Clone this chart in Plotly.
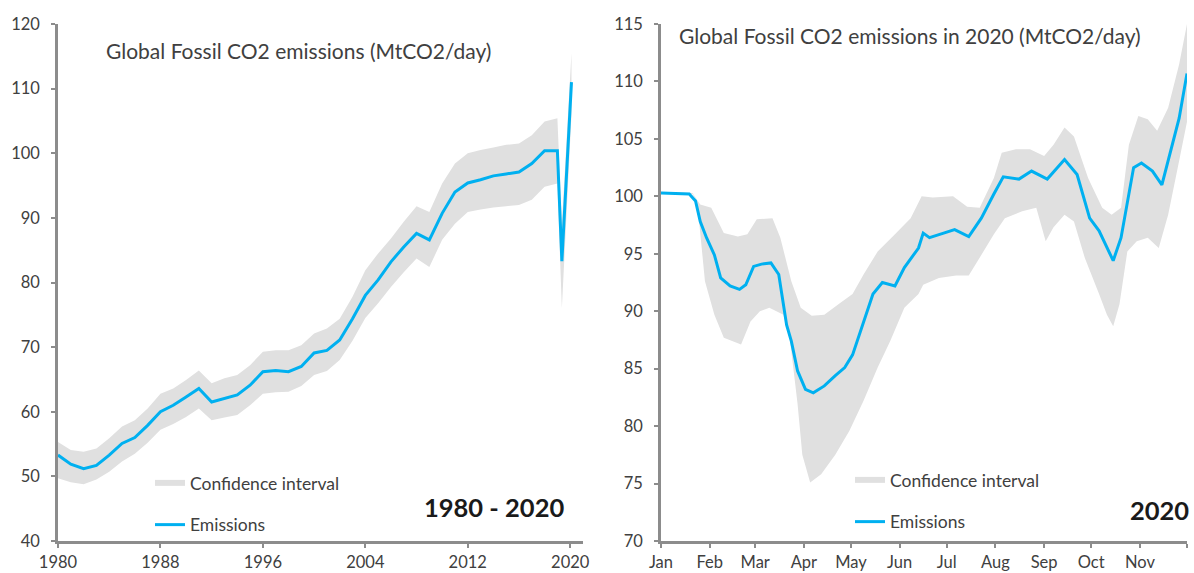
import pandas as pd
import plotly.graph_objects as go
from plotly.subplots import make_subplots

# ---------------- Left panel: annual 1980-2020 ----------------
years = [1980, 1981, 1982, 1983, 1984, 1985, 1986, 1987, 1988, 1989,
         1990, 1991, 1992, 1993, 1994, 1995, 1996, 1997, 1998, 1999,
         2000, 2001, 2002, 2003, 2004, 2005, 2006, 2007, 2008, 2009,
         2010, 2011, 2012, 2013, 2014, 2015, 2016, 2017, 2018, 2019,
         2019.35, 2020.1]
emissions_annual = [53.3, 51.9, 51.2, 51.7, 53.3, 55.1, 56.0, 57.9, 60.0, 61.0,
                    62.3, 63.6, 61.5, 62.0, 62.6, 64.1, 66.2, 66.4, 66.2, 67.0,
                    69.1, 69.5, 71.1, 74.4, 78.0, 80.4, 83.2, 85.5, 87.6, 86.6,
                    90.7, 94.0, 95.4, 95.9, 96.5, 96.8, 97.1, 98.4, 100.4, 100.4,
                    83.3, 111.0]
ci_upper_annual = [55.3, 54.1, 53.8, 54.3, 55.9, 57.7, 58.7, 60.5, 62.8, 63.6,
                   64.9, 66.4, 64.4, 65.2, 65.7, 67.2, 69.3, 69.5, 69.5, 70.3,
                   72.1, 72.9, 74.4, 77.8, 81.9, 84.5, 86.8, 89.4, 91.8, 90.9,
                   95.3, 98.4, 100.0, 100.5, 100.9, 101.3, 101.5, 102.8, 104.9, 105.4,
                   89.0, 115.5]
ci_lower_annual = [49.7, 49.1, 48.8, 49.5, 50.7, 52.3, 53.5, 55.2, 57.2, 58.1,
                   59.2, 60.5, 58.7, 59.1, 59.5, 61.0, 62.8, 63.0, 63.1, 64.0,
                   65.7, 66.3, 68.0, 71.0, 74.5, 76.8, 79.3, 81.6, 83.7, 82.4,
                   86.6, 89.1, 90.9, 91.3, 91.6, 91.8, 92.0, 92.8, 94.8, 95.3,
                   76.0, 106.0]
year_ticks = [1980, 1988, 1996, 2004, 2012, 2020]

# ---------------- Right panel: daily 2020 ----------------
# day offsets from 1 Jan 2020
line_days = [0, 18, 22, 25, 29, 34, 38, 44, 50, 54, 59, 64, 70, 75, 80, 83, 87,
             92, 97, 104, 111, 117, 122, 129, 135, 141, 149, 155, 164, 167, 171,
             180, 187, 196, 204, 212, 218, 228, 236, 246, 257, 265, 273, 279,
             288, 293, 301, 306, 313, 319, 325, 330, 335]
line_vals = [100.3, 100.2, 99.6, 97.8, 96.4, 94.9, 92.9, 92.2, 91.9, 92.3, 93.9,
             94.1, 94.2, 93.2, 88.8, 87.4, 84.8, 83.2, 82.9, 83.5, 84.4, 85.1,
             86.2, 89.1, 91.5, 92.5, 92.2, 93.8, 95.5, 96.8, 96.4, 96.8, 97.1,
             96.5, 98.1, 100.2, 101.7, 101.5, 102.2, 101.5, 103.2, 101.9, 98.1,
             97.0, 94.4, 96.4, 102.5, 102.9, 102.2, 101.0, 104.2, 106.8, 110.7]
upper_days = [0, 20, 25, 32, 40, 49, 55, 61, 71, 76, 83, 89, 96, 104, 113, 122,
              129, 138, 149, 159, 166, 173, 186, 195, 203, 212, 217, 226, 235,
              244, 250, 257, 263, 272, 281, 287, 293, 298, 304, 310, 316, 323,
              330, 335]
upper_vals = [100.4, 100.3, 99.3, 99.0, 96.8, 96.5, 96.7, 98.0, 98.1, 96.4, 92.6,
              90.3, 89.6, 89.7, 90.6, 91.5, 93.2, 95.2, 96.7, 98.1, 100.0, 99.9,
              100.0, 99.1, 99.0, 101.6, 103.8, 104.1, 104.1, 103.5, 104.5, 106.0,
              105.2, 101.6, 99.0, 98.4, 99.0, 104.5, 107.0, 106.7, 105.7, 107.7,
              111.5, 115.0]
lower_days = [0, 20, 23, 28, 34, 40, 51, 57, 63, 69, 78, 82, 87, 90, 95, 102,
              111, 120, 129, 138, 146, 155, 164, 167, 177, 188, 196, 204, 212,
              219, 230, 239, 245, 250, 257, 263, 270, 279, 284, 288, 292, 297,
              303, 310, 317, 323, 330, 335]
lower_vals = [100.2, 100.2, 99.6, 92.6, 89.7, 87.7, 87.1, 89.1, 90.0, 90.3, 89.7,
              87.7, 81.9, 77.5, 75.1, 75.8, 77.5, 79.6, 82.2, 85.1, 87.4, 90.3,
              91.5, 92.3, 92.9, 93.1, 93.1, 94.9, 96.7, 98.1, 98.7, 99.0, 96.1,
              97.3, 98.4, 97.8, 94.6, 91.5, 89.7, 88.7, 90.6, 95.2, 96.1, 96.4,
              95.5, 98.4, 103.1, 106.5]
month_labels = ["Jan", "Feb", "Mar", "Apr", "May", "Jun", "Jul", "Aug", "Sep",
                "Oct", "Nov", ""]

# ---------------- Styling ----------------
LINE_COLOR = "#00B0F0"
BAND_COLOR = "#E0E0E0"
AXIS_COLOR = "#8C8C8C"
TEXT_COLOR = "#404040"
FONT = "Lato, 'Open Sans', sans-serif"

start = pd.Timestamp("2020-01-01")
to_dates = lambda d: [start + pd.Timedelta(days=x) for x in d]
line_dates = to_dates(line_days)
upper_dates = to_dates(upper_days)
lower_dates = to_dates(lower_days)
month_ticks = pd.date_range("2020-01-01", "2020-12-01", freq="MS")

fig = make_subplots(rows=1, cols=2)

fig.add_trace(go.Scatter(
    x=years + years[::-1],
    y=ci_upper_annual + ci_lower_annual[::-1],
    fill="toself", fillcolor=BAND_COLOR, mode="none",
    name="Confidence interval", legend="legend", legendgroup="a",
    hoverinfo="skip"), row=1, col=1)
fig.add_trace(go.Scatter(
    x=years, y=emissions_annual, mode="lines",
    line=dict(color=LINE_COLOR, width=3),
    name="Emissions", legend="legend", legendgroup="b"), row=1, col=1)

fig.add_trace(go.Scatter(
    x=upper_dates + lower_dates[::-1],
    y=upper_vals + lower_vals[::-1],
    fill="toself", fillcolor=BAND_COLOR, mode="none",
    name="Confidence interval", legend="legend2", legendgroup="c",
    hoverinfo="skip"), row=1, col=2)
fig.add_trace(go.Scatter(
    x=line_dates, y=line_vals, mode="lines",
    line=dict(color=LINE_COLOR, width=3),
    name="Emissions", legend="legend2", legendgroup="d"), row=1, col=2)

W, H = 1194, 573
axis_common = dict(showline=True, linecolor=AXIS_COLOR, linewidth=2.5,
                   ticks="outside", tickcolor=AXIS_COLOR, ticklen=4, tickwidth=1.5,
                   showgrid=False, zeroline=False, automargin=False,
                   tickfont=dict(family=FONT, size=16.5, color=TEXT_COLOR))

fig.update_xaxes(domain=[58 / W, 583 / W], range=[1980, 2021],
                 tickvals=year_ticks, ticktext=[str(t) for t in year_ticks],
                 **axis_common, row=1, col=1)
fig.update_yaxes(range=[40, 120], dtick=10, ticklabelstandoff=8,
                 **axis_common, row=1, col=1)
fig.update_xaxes(domain=[661 / W, 1187 / W],
                 range=[month_ticks[0], month_ticks[-1]],
                 tickvals=list(month_ticks), ticktext=month_labels,
                 **axis_common, row=1, col=2)
fig.update_yaxes(range=[70, 115], dtick=5, ticklabelstandoff=8,
                 **axis_common, row=1, col=2)

legend_common = dict(font=dict(family=FONT, size=17.5, color=TEXT_COLOR),
                     bgcolor="rgba(0,0,0,0)", tracegroupgap=16,
                     traceorder="grouped", xanchor="left", yanchor="top",
                     itemwidth=30)
fig.update_layout(
    width=W, height=H,
    autosize=False,
    margin=dict(l=0, r=0, t=24, b=32, autoexpand=False),
    paper_bgcolor="white", plot_bgcolor="white",
    font=dict(family=FONT, color=TEXT_COLOR),
    legend=dict(x=150 / W, y=(541 - 465) / 517, **legend_common),
    legend2=dict(x=850 / W, y=(541 - 462) / 517, **legend_common),
    annotations=[
        dict(text="Global Fossil CO2 emissions (MtCO2/day)", xref="paper",
             yref="paper", x=104 / W, y=(541 - 50) / 517, xanchor="left",
             yanchor="middle", showarrow=False,
             font=dict(family=FONT, size=21, color=TEXT_COLOR)),
        dict(text="Global Fossil CO2 emissions in 2020 (MtCO2/day)", xref="paper",
             yref="paper", x=677 / W, y=(541 - 36) / 517, xanchor="left",
             yanchor="middle", showarrow=False,
             font=dict(family=FONT, size=21, color=TEXT_COLOR)),
        dict(text="<b>1980 - 2020</b>", xref="paper", yref="paper",
             x=566 / W, y=(541 - 507) / 517, xanchor="right", yanchor="middle",
             showarrow=False, font=dict(family=FONT, size=25.5, color="#1A1A1A")),
        dict(text="<b>2020</b>", xref="paper", yref="paper",
             x=1191 / W, y=(541 - 510) / 517, xanchor="right", yanchor="middle",
             showarrow=False, font=dict(family=FONT, size=25.5, color="#1A1A1A")),
    ],
)

fig.write_html("out.html", config={"responsive": False, "displayModeBar": False},
               post_script="document.body.style.margin='0px';"
                           "document.body.style.overflow='hidden';")
